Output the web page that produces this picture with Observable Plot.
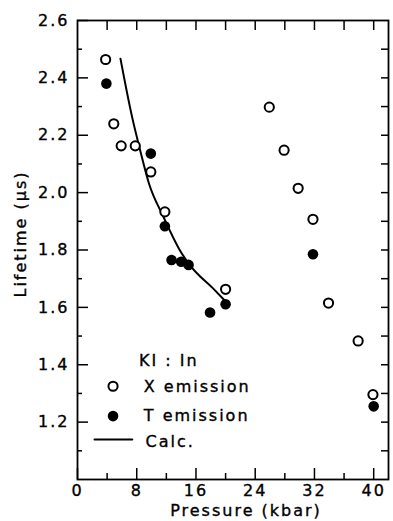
<!DOCTYPE html>
<html>
<head>
<meta charset="utf-8">
<script src="https://cdn.jsdelivr.net/npm/d3@7"></script>
<script src="https://cdn.jsdelivr.net/npm/@observablehq/plot@0.6"></script>
<style>
  html, body { margin: 0; padding: 0; background: #fff; }
  #chart { width: 393px; height: 521px; }
  #chart svg text { stroke: black; stroke-width: 0.35px; }
</style>
</head>
<body>
<div id="chart"></div>
<script>
// ---- data ----
const xEmissionPressure = [3.8, 4.9, 5.9, 7.8, 9.9, 11.8, 20.0, 25.9, 27.9, 29.8, 31.8, 33.9, 37.9, 39.9];
const xEmissionLifetime = [2.464, 2.24, 2.163, 2.163, 2.072, 1.933, 1.663, 2.298, 2.148, 2.015, 1.907, 1.615, 1.483, 1.296];
const tEmissionPressure = [3.9, 9.9, 11.8, 12.7, 14.0, 15.0, 17.9, 20.0, 31.8, 40.0];
const tEmissionLifetime = [2.38, 2.136, 1.883, 1.765, 1.759, 1.748, 1.582, 1.611, 1.785, 1.255];
const calcPressure = [5.8, 7.37, 8.35, 9.65, 11.6, 13.8, 15.15, 18.5, 19.8];
const calcLifetime = [2.467, 2.264, 2.159, 2.032, 1.916, 1.80, 1.748, 1.661, 1.626];

const xTickLabels = [0, 8, 16, 24, 32, 40];
const xMinorTicks = [4, 12, 20, 28, 36];
const xTopTicks = [4, 8, 12, 16, 20, 24, 28, 32, 36, 40];
const yTickLabels = [1.2, 1.4, 1.6, 1.8, 2.0, 2.2, 2.4, 2.6];
const yMinorTicks = [1.1, 1.3, 1.5, 1.7, 1.9, 2.1, 2.3, 2.5];
const yRightTicks = [1.1, 1.2, 1.3, 1.4, 1.5, 1.6, 1.7, 1.8, 1.9, 2.0, 2.1, 2.2, 2.3, 2.4, 2.5];

const legendTitle = ["KI : In"];
const legendTitlePos = [[8.3, 1.414]];
const legendLabels = ["X emission", "T emission", "Calc."];
const legendLabelPos = [[8.95, 1.322], [8.95, 1.223], [9.2, 1.132]];
const legendOpenPos = [[4.8, 1.325]];
const legendFilledPos = [[4.8, 1.221]];
const legendLinePos = [[2.3, 1.139], [7.4, 1.139]];

// ---- layout ----
const W = 393, H = 521;
const mL = 77, mR = 5, mT = 20, mB = 42;
const pW = W - mL - mR, pH = H - mT - mB;

const xPts = xEmissionPressure.map((p, i) => ({p, t: xEmissionLifetime[i]}));
const tPts = tEmissionPressure.map((p, i) => ({p, t: tEmissionLifetime[i]}));
const calc = calcPressure.map((p, i) => ({p, t: calcLifetime[i]}));
const legendText = legendLabels.map((s, i) => ({s, x: legendLabelPos[i][0], y: legendLabelPos[i][1]}));
const legendTitleText = legendTitle.map((s, i) => ({s, x: legendTitlePos[i][0], y: legendTitlePos[i][1]}));

const font = "DejaVu Sans";
const FS = 16;

const chart = Plot.plot({
  width: W, height: H,
  marginLeft: mL, marginRight: mR, marginTop: mT, marginBottom: mB,
  style: {fontFamily: font, fontSize: "16px", color: "black", background: "white", letterSpacing: "2px"},
  x: {domain: [0, 42]},
  y: {domain: [1.0, 2.6]},
  marks: [
    // inward ticks
    Plot.tickY(yTickLabels, {y: d => d, insetRight: pW - 11, stroke: "black", strokeWidth: 1.5}),
    Plot.tickY(yMinorTicks, {y: d => d, insetRight: pW - 5, stroke: "black", strokeWidth: 1.5}),
    Plot.tickY(yRightTicks, {y: d => d, insetLeft: pW - 7, stroke: "black", strokeWidth: 1.5}),
    Plot.tickX(xTickLabels, {x: d => d, insetTop: pH - 11, stroke: "black", strokeWidth: 1.5}),
    Plot.tickX(xMinorTicks, {x: d => d, insetTop: pH - 6, stroke: "black", strokeWidth: 1.5}),
    Plot.tickX(xTopTicks, {x: d => d, insetBottom: pH - 10, stroke: "black", strokeWidth: 1.5}),
    Plot.frame({stroke: "black", strokeWidth: 1.8}),
    Plot.axisY({ticks: yTickLabels, tickSize: 0, tickPadding: 8, fontSize: FS, tickFormat: d3.format(".1f"), label: null}),
    Plot.axisX({ticks: xTickLabels, tickSize: 0, tickPadding: 5, fontSize: FS, tickFormat: d => String(d), label: null}),
    Plot.text(["Pressure (kbar)"], {frameAnchor: "bottom", lineAnchor: "middle", textAnchor: "middle", dx: 13, dy: 31, fontSize: FS, text: d => d, fill: "black"}),
    Plot.text(["Lifetime (\u03BCs)"], {frameAnchor: "left", lineAnchor: "middle", textAnchor: "middle", dx: -57, dy: -16, rotate: -90, fontSize: FS, text: d => d, fill: "black", style: {letterSpacing: "3.2px"}}),
    // calc curve
    Plot.line(calc, {x: "p", y: "t", curve: "monotone-x", stroke: "black", strokeWidth: 2}),
    // data
    Plot.dot(xPts, {x: "p", y: "t", r: 4.6, stroke: "black", strokeWidth: 2, fill: "white"}),
    Plot.dot(tPts, {x: "p", y: "t", r: 5.3, fill: "black", stroke: "none"}),
    // legend
    Plot.text(legendTitleText, {x: "x", y: "y", text: "s", textAnchor: "start", fontSize: FS, fill: "black", style: {letterSpacing: "2.5px"}}),
    Plot.text(legendText, {x: "x", y: "y", text: "s", textAnchor: "start", fontSize: FS, fill: "black"}),
    Plot.dot(legendOpenPos, {x: d => d[0], y: d => d[1], r: 4.6, stroke: "black", strokeWidth: 2, fill: "white"}),
    Plot.dot(legendFilledPos, {x: d => d[0], y: d => d[1], r: 5.3, fill: "black", stroke: "none"}),
    Plot.line(legendLinePos, {x: d => d[0], y: d => d[1], stroke: "black", strokeWidth: 2})
  ]
});
document.getElementById("chart").appendChild(chart);
</script>
</body>
</html>
